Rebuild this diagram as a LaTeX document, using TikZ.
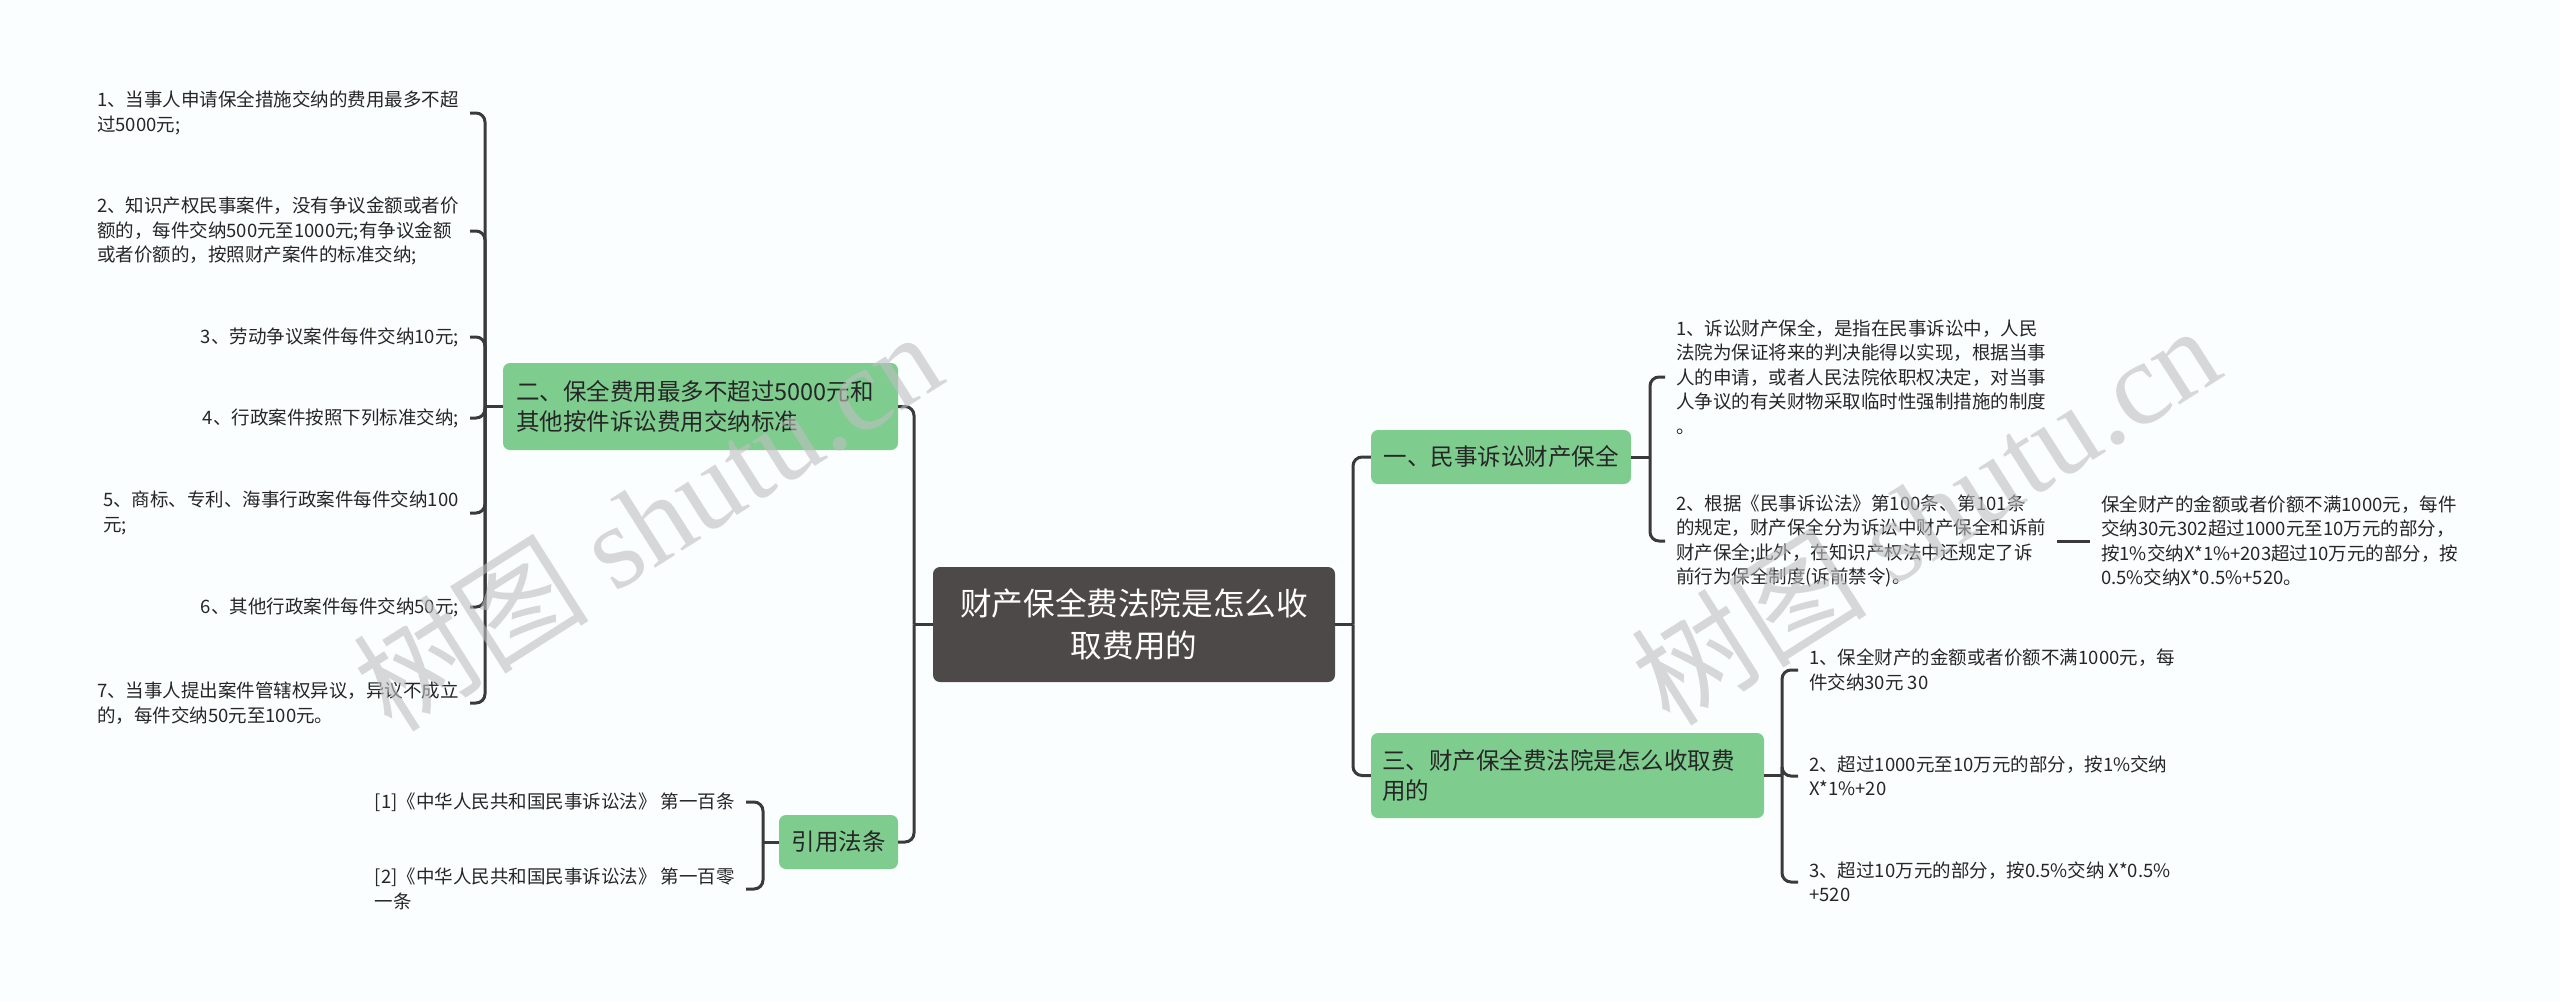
\documentclass[tikz,border=0pt]{standalone}
\usepackage{fontspec}
\setmainfont{Noto Sans CJK SC}
\newfontfamily\wmlatin{Liberation Serif}
\definecolor{bgc}{RGB}{251,254,255}
\definecolor{linec}{RGB}{58,58,58}
\definecolor{greenc}{RGB}{126,205,143}
\definecolor{rootc}{RGB}{77,73,72}
\definecolor{txtc}{RGB}{38,38,38}
\definecolor{wmc}{RGB}{190,190,190}
\begin{document}
\begin{tikzpicture}[x=1pt,y=-1pt,
  conn/.style={draw=linec,line width=3pt,rounded corners=9pt},
  leaf/.style={inner xsep=11pt,inner ysep=0pt,font=\fontsize{18.5pt}{24.5pt}\selectfont,text=txtc},
  leafL/.style={leaf,anchor=east},
  leafR/.style={leaf,anchor=west,align=left},
  gbox/.style={rectangle,fill=greenc,rounded corners=7pt,inner sep=0pt,font=\fontsize{23.5pt}{30pt}\selectfont,text=txtc},
  rootbox/.style={rectangle,fill=rootc,rounded corners=7pt,inner sep=0pt,font=\fontsize{31.6pt}{42pt}\selectfont,text=white,align=center},
  wm/.style={rotate=32.4,text=wmc,opacity=0.6,inner sep=0pt,font=\fontsize{118pt}{118pt}\selectfont}
]
\useasboundingbox (0,0) rectangle (2560,1002);
\fill[bgc] (0,0) rectangle (2560,1002);

% central node
\node[rootbox,minimum width=402pt,minimum height=115pt] (root) at (1134,624.5) {财产保全费法院是怎么收\\取费用的};

% left main branches
\node[gbox,minimum width=395pt,minimum height=87pt,text width=369pt,align=left] (g2) at (700.5,406.5) {二、保全费用最多不超过5000元和\\其他按件诉讼费用交纳标准};
\node[gbox,minimum width=119pt,minimum height=54pt,align=center] (law) at (838.5,842) {引用法条};

% right main branches
\node[gbox,minimum width=260pt,minimum height=54pt,align=center] (g1) at (1501,457) {一、民事诉讼财产保全};
\node[gbox,minimum width=393pt,minimum height=85pt,text width=371pt,align=left] (g3) at (1567.5,775.5) {三、财产保全费法院是怎么收取费\\用的};

% left leaves
\node[leafL,align=left] (l1) at (470,113) {1、当事人申请保全措施交纳的费用最多不超\\过5000元;};
\node[leafL,align=left] (l2) at (470,231) {2、知识产权民事案件，没有争议金额或者价\\额的，每件交纳500元至1000元;有争议金额\\或者价额的，按照财产案件的标准交纳;};
\node[leafL,align=right] (l3) at (470,337) {3、劳动争议案件每件交纳10元;};
\node[leafL,align=right] (l4) at (470,418) {4、行政案件按照下列标准交纳;};
\node[leafL,align=left] (l5) at (470,513) {5、商标、专利、海事行政案件每件交纳100\\元;};
\node[leafL,align=right] (l6) at (470,607) {6、其他行政案件每件交纳50元;};
\node[leafL,align=left] (l7) at (470,703) {7、当事人提出案件管辖权异议，异议不成立\\的，每件交纳50元至100元。};

\node[leafL,align=right] (r1) at (746,802) {[1]《中华人民共和国民事诉讼法》 第一百条};
\node[leafL,align=left] (r2) at (746,889) {[2]《中华人民共和国民事诉讼法》 第一百零\\一条};

% right leaves
\node[leafR] (a1) at (1665,377) {1、诉讼财产保全，是指在民事诉讼中，人民\\法院为保证将来的判决能得以实现，根据当事\\人的申请，或者人民法院依职权决定，对当事\\人争议的有关财物采取临时性强制措施的制度\\。};
\node[leafR] (a2) at (1665,541) {2、根据《民事诉讼法》第100条、第101条\\的规定，财产保全分为诉讼中财产保全和诉前\\财产保全;此外，在知识产权法中还规定了诉\\前行为保全制度(诉前禁令)。};
\node[leafR] (a3) at (2090,541) {保全财产的金额或者价额不满1000元，每件\\交纳30元302超过1000元至10万元的部分，\\按1\%交纳X*1\%+203超过10万元的部分，按\\0.5\%交纳X*0.5\%+520。};

\node[leafR] (c1) at (1798,670) {1、保全财产的金额或者价额不满1000元，每\\件交纳30元 30};
\node[leafR] (c2) at (1798,776) {2、超过1000元至10万元的部分，按1\%交纳\\X*1\%+20};
\node[leafR] (c3) at (1798,882) {3、超过10万元的部分，按0.5\%交纳 X*0.5\%\\+520};

% junction coordinates
\coordinate (jL) at (914,624.5);
\coordinate (jR) at (1353,624.5);
\coordinate (b2) at (485,406.5);
\coordinate (bl) at (763,842);
\coordinate (bg1) at (1650,457);
\coordinate (bg3) at (1782,775.5);

% connectors
\draw[conn] (root.west) -- (jL);
\draw[conn] (jL) |- (g2.east);
\draw[conn] (jL) |- (law.east);
\draw[conn] (root.east) -- (jR);
\draw[conn] (jR) |- (g1.west);
\draw[conn] (jR) |- (g3.west);

\draw[conn] (g2.west) -- (b2);
\foreach \n in {l1,l2,l3,l4,l5,l6,l7} {\draw[conn] (b2) |- (\n.east);}

\draw[conn] (law.west) -- (bl);
\foreach \n in {r1,r2} {\draw[conn] (bl) |- (\n.east);}

\draw[conn] (g1.east) -- (bg1);
\foreach \n in {a1,a2} {\draw[conn] (bg1) |- (\n.west);}
\draw[conn] (a2.east) -- (a3.west);

\draw[conn] (g3.east) -- (bg3);
\foreach \n in {c1,c2,c3} {\draw[conn] (bg3) |- (\n.west);}

% watermarks
\node[wm] (wm1) at (647,520) {树图 {\wmlatin shutu.cn}};
\node[wm] (wm2) at (1925,514) {树图 {\wmlatin shutu.cn}};
\end{tikzpicture}
\end{document}
